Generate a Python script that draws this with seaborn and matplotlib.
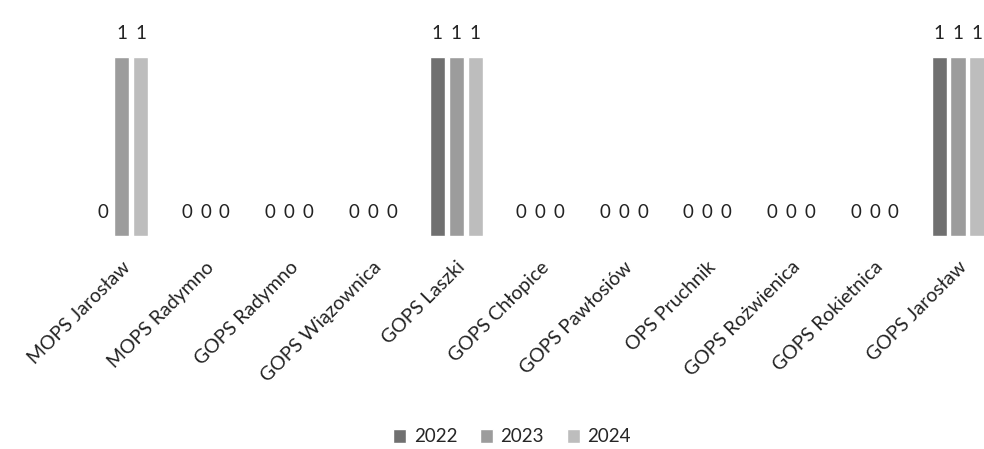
import matplotlib
matplotlib.use("Agg")
import matplotlib.pyplot as plt
import seaborn as sns
import pandas as pd

categories = ["MOPS Jarosław", "MOPS Radymno", "GOPS Radymno", "GOPS Wiązownica",
              "GOPS Laszki", "GOPS Chłopice", "GOPS Pawłosiów", "OPS Pruchnik",
              "GOPS Rożwienica", "GOPS Rokietnica", "GOPS Jarosław"]
years = ["2022", "2023", "2024"]
v2022 = [0, 0, 0, 0, 1, 0, 0, 0, 0, 0, 1]
v2023 = [1, 0, 0, 0, 1, 0, 0, 0, 0, 0, 1]
v2024 = [1, 0, 0, 0, 1, 0, 0, 0, 0, 0, 1]
colors = ["#707070", "#9c9c9c", "#bdbdbd"]

rows = []
for y, vals in zip(years, [v2022, v2023, v2024]):
    for c, v in zip(categories, vals):
        rows.append({"cat": c, "year": y, "val": v})
df = pd.DataFrame(rows)

sns.set_theme(style="white")
plt.rcParams['font.family'] = ['Lato', 'DejaVu Sans']

fig = plt.figure(figsize=(9.84, 4.49), dpi=100)
ax = fig.add_axes([80/984, 0.474, 1 - 80/984, 0.479])
sns.barplot(data=df, x="cat", y="val", hue="year", order=categories, hue_order=years,
            palette=colors, width=0.68, gap=0.2, ax=ax, legend=True, saturation=1)

for cont in ax.containers:
    ax.bar_label(cont, labels=[f"{int(b.get_height())}" for b in cont], padding=11,
                 fontsize=13.5, color="#222222")

ax.set_ylim(0, 1.2)
ax.set_xlim(-0.5, 10.31)
ax.set_xlabel("")
ax.set_ylabel("")
ax.set_yticks([])
for s in ax.spines.values():
    s.set_visible(False)
ax.tick_params(axis="x", length=0, pad=16)
ax.set_xticks(range(len(categories)))
ax.set_xticklabels(categories, rotation=45, ha="right", rotation_mode="anchor",
                   fontsize=14, color="#222222")

handles, labels = ax.get_legend_handles_labels()
ax.legend_.remove()
fig.legend(handles, labels, loc="center", bbox_to_anchor=(512/984, 1 - 437/449), ncol=3,
           frameon=False, fontsize=13.5, handlelength=0.7, handleheight=0.7,
           handletextpad=0.4, columnspacing=1.2)

fig.savefig("out.png", dpi=100)
